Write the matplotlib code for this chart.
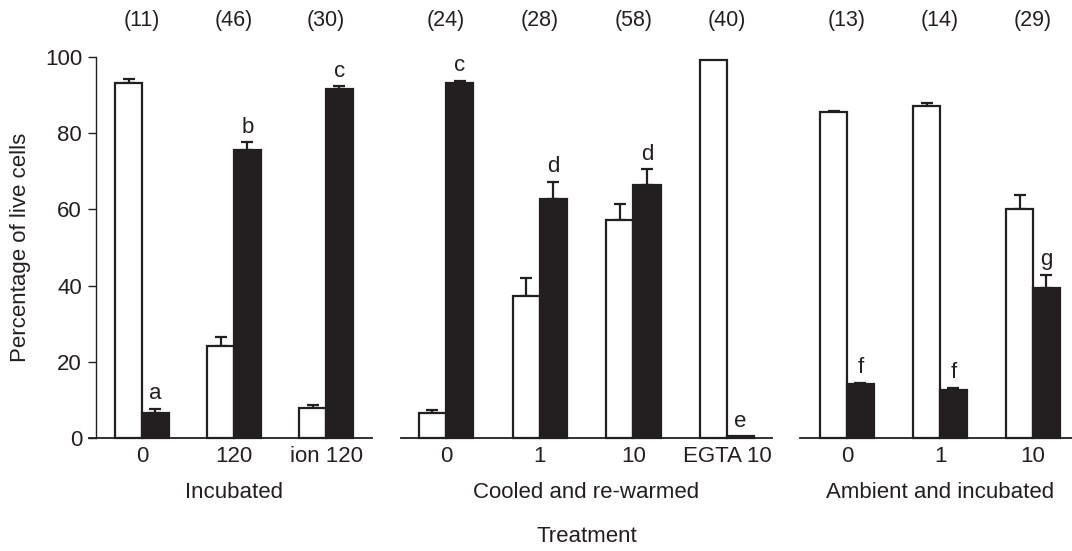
import matplotlib.pyplot as plt
import numpy as np

plt.rcParams['font.family'] = ['Liberation Sans', 'DejaVu Sans']
plt.rcParams['font.size'] = 16

ink = '#231f20'

# Incubated
inc_labels = ['0', '120', 'ion 120']
inc_n = ['(11)', '(46)', '(30)']
inc_white = [93.2, 24.2, 8.0]
inc_white_err = [1.0, 2.3, 0.7]
inc_black = [6.6, 75.5, 91.7]
inc_black_err = [1.0, 2.1, 0.6]
inc_letters = ['a', 'b', 'c']

# Cooled and re-warmed
cool_labels = ['0', '1', '10', 'EGTA 10']
cool_n = ['(24)', '(28)', '(58)', '(40)']
cool_white = [6.6, 37.3, 57.2, 99.1]
cool_white_err = [0.8, 4.6, 4.3, 0.0]
cool_black = [93.2, 62.6, 66.5, 0.4]
cool_black_err = [0.5, 4.6, 4.0, 0.0]
cool_letters = ['c', 'd', 'd', 'e']

# Ambient and incubated
amb_labels = ['0', '1', '10']
amb_n = ['(13)', '(14)', '(29)']
amb_white = [85.5, 87.2, 60.1]
amb_white_err = [0.4, 0.6, 3.6]
amb_black = [14.1, 12.5, 39.5]
amb_black_err = [0.4, 0.6, 3.4]
amb_letters = ['f', 'f', 'g']

panels = [
    ('Incubated', inc_labels, inc_n, inc_white, inc_white_err, inc_black, inc_black_err, inc_letters),
    ('Cooled and re-warmed', cool_labels, cool_n, cool_white, cool_white_err, cool_black, cool_black_err, cool_letters),
    ('Ambient and incubated', amb_labels, amb_n, amb_white, amb_white_err, amb_black, amb_black_err, amb_letters),
]

W, H = 1072, 551
fig = plt.figure(figsize=(W / 100, H / 100), dpi=100)

# pixel layout: (axes left, axes right, first group centre, group spacing)
layout = [(89, 372, 142, 92.0), (401, 772, 446, 93.7), (800, 1072, 847, 93.0)]
y0, y100 = 438, 57
bw = 0.29

for i, (title, labels, n, white, werr, black, berr, letters) in enumerate(panels):
    left, right, c0, sp = layout[i]
    ax = fig.add_axes([left / W, 1 - y0 / H, (right - left) / W, (y0 - y100) / H])
    x = np.arange(len(labels))
    ax.set_xlim((left - c0) / sp, (right - c0) / sp)
    ax.set_ylim(0, 100)

    ax.bar(x - bw / 2, white, bw, color='white', edgecolor=ink, linewidth=1.6, clip_on=False, zorder=2)
    ax.bar(x + bw / 2, black, bw, color=ink, edgecolor=ink, linewidth=1.6, clip_on=False, zorder=2)

    for xi, v, e in zip(x - bw / 2, white, werr):
        if e > 0:
            ax.errorbar(xi, v, yerr=[[0], [e]], fmt='none', ecolor=ink, elinewidth=1.6,
                        capsize=4, capthick=1.6, clip_on=False, zorder=1)
    for xi, v, e in zip(x + bw / 2, black, berr):
        if e > 0:
            ax.errorbar(xi, v, yerr=[[0], [e]], fmt='none', ecolor=ink, elinewidth=1.6,
                        capsize=4, capthick=1.6, clip_on=False, zorder=1)

    for xi, v, e, t in zip(x + bw / 2, black, berr, letters):
        ax.annotate(t, (xi, v + e), xytext=(0, 7), textcoords='offset points',
                    ha='center', va='baseline', fontsize=16, color=ink)

    for xi, t in zip(x, n):
        ax.text(xi, 1.097, t, transform=ax.get_xaxis_transform(), ha='center', va='center',
                fontsize=15.5, color=ink)

    ax.set_xticks(x, labels)
    ax.tick_params(axis='x', length=0, pad=6, labelsize=16, colors=ink)
    ax.text(x.mean(), -0.142, title, transform=ax.get_xaxis_transform(), ha='center',
            va='center', fontsize=16, color=ink)

    for s in ['top', 'right']:
        ax.spines[s].set_visible(False)
    ax.spines['bottom'].set_linewidth(1.3)
    ax.spines['bottom'].set_color(ink)
    ax.patch.set_alpha(0)
    if i == 0:
        ax.spines['left'].set_position(('axes', 7 / (right - left)))
        ax.spines['left'].set_linewidth(1.0)
        ax.spines['left'].set_color(ink)
        ax.set_yticks([0, 20, 40, 60, 80, 100])
        ax.tick_params(axis='y', length=6, width=1.0, pad=4, labelsize=16, colors=ink)
    else:
        ax.spines['left'].set_visible(False)
        ax.set_yticks([])

fig.text(21 / W, 1 - 247 / H, 'Percentage of live cells', rotation=90, ha='center', va='center',
         fontsize=16, color=ink)
fig.text(587 / W, 1 - 537 / H, 'Treatment', ha='center', va='center', fontsize=16, color=ink)

fig.savefig('out.png', dpi=100)
